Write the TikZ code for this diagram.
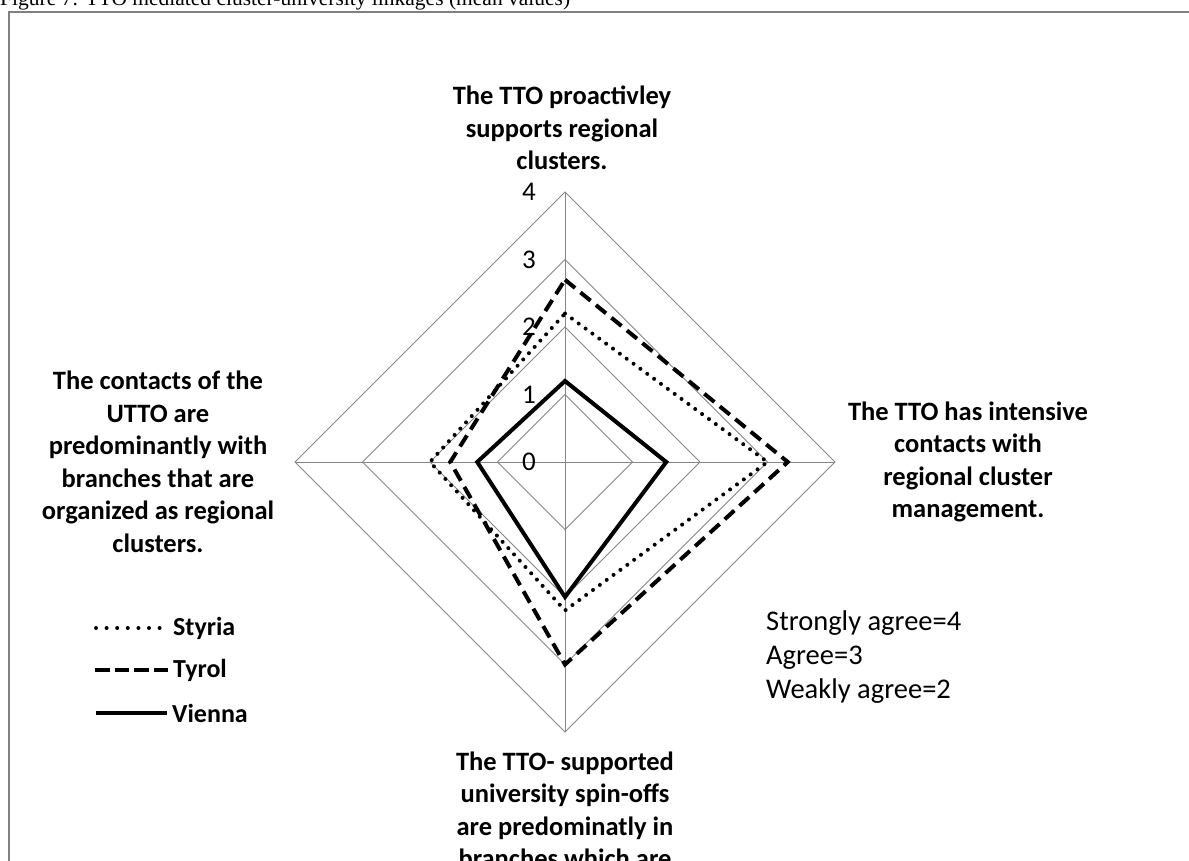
\documentclass[tikz,border=0pt]{standalone}
\usepackage{fontspec}
\setmainfont{Carlito}
\newfontfamily\timesfont{Liberation Serif}
\definecolor{gridgray}{RGB}{134,134,134}
\definecolor{framegray}{RGB}{128,128,128}
\tikzset{
  gridline/.style={draw=gridgray, line width=1pt},
  framebox/.style={draw=framegray, line width=2.5pt},
  styria/.style={draw=black, line width=4pt, dash pattern=on 0pt off 8.5pt, line cap=round},
  tyrol/.style={draw=black, line width=4pt, dash pattern=on 13pt off 7pt},
  vienna/.style={draw=black, line width=4pt},
  axislabel/.style={font=\bfseries\fontsize{26.5}{32.5}\selectfont, align=center, inner sep=0pt},
  legendtext/.style={font=\bfseries\fontsize{26}{30}\selectfont, anchor=west, inner sep=0pt},
  tick/.style={font=\fontsize{27}{30}\selectfont, anchor=east, inner sep=0pt},
  notetext/.style={font=\fontsize{28.5}{34}\selectfont, anchor=west, inner sep=0pt, align=left}
}
\begin{document}
\begin{tikzpicture}[x=1pt,y=-1pt]
\useasboundingbox (0,0) rectangle (1189,861);
\clip (0,0) rectangle (1189,861);
% title (cut off at the top)
\node[font=\timesfont\fontsize{21.5}{26}\selectfont, anchor=base west, inner sep=0pt] (title) at (0,6) {Figure 7: TTO mediated cluster-university linkages (mean values)};
% frame
\draw[framebox] (9,12) rectangle (1210,900);
% centre
\coordinate (c) at (565,462);
% grid
\foreach \r in {1,2,3,4}{
  \draw[gridline] (565,{462-67.5*\r}) -- ({565+67.5*\r},462) -- (565,{462+67.5*\r}) -- ({565-67.5*\r},462) -- cycle;
}
\coordinate (t4) at (565,192);
\coordinate (r4) at (835,462);
\coordinate (b4) at (565,732);
\coordinate (l4) at (295,462);
\draw[gridline] (c) -- (t4);
\draw[gridline] (c) -- (r4);
\draw[gridline] (c) -- (b4);
\draw[gridline] (c) -- (l4);
% tick labels
\foreach \k in {0,1,2,3,4}{
  \node[tick] (tick\k) at (536,{462-67.5*\k}) {\k};
}
% series
\draw[styria] (565,{462-2.2*67.5}) -- ({565+3.0*67.5},462) -- (565,{462+2.2*67.5}) -- ({565-2.0*67.5},462) -- cycle;
\draw[tyrol] (565,{462-2.7*67.5}) -- ({565+3.3*67.5},462) -- (565,{462+3.0*67.5}) -- ({565-1.7*67.5},462) -- cycle;
\draw[vienna] (565,{462-1.2*67.5}) -- ({565+1.5*67.5},462) -- (565,{462+2.0*67.5}) -- ({565-1.3*67.5},462) -- cycle;
% axis labels
\node[axislabel] (toplabel) at (562,128) {The TTO proactivley\\supports regional\\clusters.};
\node[axislabel] (rightlabel) at (968,462) {The TTO has intensive\\contacts with\\regional cluster\\management.};
\node[axislabel] (leftlabel) at (158,462) {The contacts of the\\UTTO are\\predominantly with\\branches that are\\organized as regional\\clusters.};
\node[axislabel] (bottomlabel) at (565,810) {The TTO- supported\\university spin-offs\\are predominatly in\\branches which are};
% legend
\coordinate (ls1) at (96,628); \coordinate (le1) at (160,628);
\coordinate (ls2) at (95,670); \coordinate (le2) at (168,670);
\coordinate (ls3) at (96,713); \coordinate (le3) at (167,713);
\draw[styria, dash pattern=on 0pt off 10.6pt] (ls1) -- (le1);
\draw[tyrol, dash pattern=on 14.5pt off 5pt] (ls2) -- (le2);
\draw[vienna] (ls3) -- (le3);
\node[legendtext] (lg1) at (173,628) {Styria};
\node[legendtext] (lg2) at (173,670) {Tyrol};
\node[legendtext] (lg3) at (172,713) {Vienna};
% scale note
\node[notetext, anchor=north west] (note) at (766,611) {Strongly agree=4\\Agree=3\\Weakly agree=2};
\end{tikzpicture}
\end{document}
